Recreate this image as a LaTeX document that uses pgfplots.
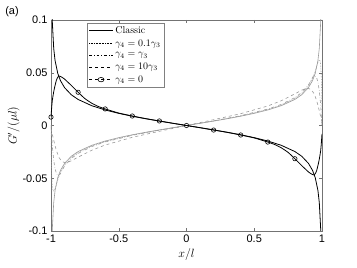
\documentclass[border=0pt]{standalone}
\usepackage{pgfplots}
\pgfplotsset{compat=1.18}
\usepackage{fontspec}
\newfontfamily\arial{Liberation Sans}
\begin{document}
\begin{tikzpicture}
\begin{axis}[
  name=ax,
  scale only axis, width=271bp, height=211bp,
  xmin=-1, xmax=1, ymin=-0.1, ymax=0.1,
  xtick={-1,-0.5,0,0.5,1}, ytick={-0.1,-0.05,0,0.05,0.1},
  tick align=inside, major tick length=3bp,
  axis line style={black!55, line width=0.5pt},
  tick style={black!55},
  tick label style={font=\arial\fontsize{11}{13}\selectfont},
  /pgf/number format/assume math mode=true,
  scaled y ticks=false,
  yticklabel style={/pgf/number format/fixed, /pgf/number format/precision=2},
  xlabel={$x/l$}, ylabel={$G'/(\mu l)$},
  label style={font=\fontsize{12}{14}\selectfont},
  xlabel style={yshift=1bp},
  ylabel style={yshift=-4bp},
  legend style={at={(0.133,0.987)}, anchor=north west, draw=black!50, font=\fontsize{10}{12}\selectfont, inner sep=1.5pt, row sep=0.8pt},
  legend cell align=left,
  legend image post style={xscale=1.4},
]
\addlegendimage{black, line width=0.8pt}
\addlegendentry{Classic}
\addlegendimage{black, densely dotted, line width=0.6pt}
\addlegendentry{$\gamma_4=0.1\gamma_3$}
\addlegendimage{black, dash dot, line width=0.6pt}
\addlegendentry{$\gamma_4=\gamma_3$}
\addlegendimage{black, dashed, line width=0.6pt}
\addlegendentry{$\gamma_4=10\gamma_3$}
\addlegendimage{black, dashed, line width=0.6pt, mark=o, mark size=2.2pt, mark options={solid}}
\addlegendentry{$\gamma_4=0$}

% gray: mirrored classic
\addplot[black!40, line width=0.6pt, forget plot] coordinates {
(-0.999,-0.246)(-0.995,-0.129)(-0.99,-0.0973)(-0.98,-0.0731)(-0.97,-0.0616)(-0.95,-0.0494)(-0.93,-0.0425)(-0.9,-0.0359)(-0.85,-0.0291)(-0.8,-0.0247)(-0.7,-0.0188)(-0.6,-0.0147)(-0.5,-0.0115)(-0.4,-0.0088)(-0.3,-0.00639)(-0.2,-0.00417)(-0.1,-0.00206)(0,0)
(0.1,0.00206)(0.2,0.00417)(0.3,0.00639)(0.4,0.0088)(0.5,0.0115)(0.6,0.0147)(0.7,0.0188)(0.8,0.0247)(0.85,0.0291)(0.9,0.0359)(0.93,0.0425)(0.95,0.0494)(0.97,0.0616)(0.98,0.0731)(0.99,0.0973)(0.995,0.129)(0.999,0.246)};
% gray dotted: 0.1 gamma3
\addplot[black!40, densely dotted, line width=0.6pt, forget plot] coordinates {
(-1,0)(-0.998,-0.028)(-0.995,-0.046)(-0.99,-0.058)(-0.985,-0.0615)(-0.98,-0.062)(-0.97,-0.060)(-0.96,-0.056)(-0.95,-0.0515)(-0.93,-0.0445)(-0.9,-0.0375)(-0.85,-0.0302)(-0.8,-0.0256)(-0.7,-0.0194)(-0.6,-0.0152)(-0.4,-0.0091)(-0.2,-0.0043)(0,0)
(0.2,0.0043)(0.4,0.0091)(0.6,0.0152)(0.7,0.0194)(0.8,0.0256)(0.85,0.0302)(0.9,0.0375)(0.93,0.0445)(0.95,0.0515)(0.96,0.056)(0.97,0.060)(0.98,0.062)(0.985,0.0615)(0.99,0.058)(0.995,0.046)(0.998,0.028)(1,0)};
% gray dash-dot: gamma3
\addplot[black!40, dash dot, line width=0.6pt, forget plot] coordinates {
(-1,0)(-0.99,-0.020)(-0.98,-0.033)(-0.97,-0.041)(-0.96,-0.0455)(-0.95,-0.047)(-0.935,-0.0465)(-0.92,-0.043)(-0.9,-0.0385)(-0.85,-0.0312)(-0.8,-0.0265)(-0.7,-0.0200)(-0.6,-0.0156)(-0.4,-0.0093)(-0.2,-0.0044)(0,0)
(0.2,0.0044)(0.4,0.0093)(0.6,0.0156)(0.7,0.0200)(0.8,0.0265)(0.85,0.0312)(0.9,0.0385)(0.92,0.043)(0.935,0.0465)(0.95,0.047)(0.96,0.0455)(0.97,0.041)(0.98,0.033)(0.99,0.020)(1,0)};
% gray dashed: 10 gamma3
\addplot[black!40, dashed, line width=0.6pt, forget plot] coordinates {
(-1,-0.003)(-0.98,-0.014)(-0.96,-0.024)(-0.94,-0.0305)(-0.92,-0.034)(-0.9,-0.0352)(-0.88,-0.035)(-0.85,-0.0335)(-0.8,-0.0300)(-0.7,-0.0235)(-0.6,-0.0185)(-0.4,-0.0112)(-0.2,-0.0055)(0,0)
(0.2,0.0055)(0.4,0.0112)(0.6,0.0185)(0.7,0.0235)(0.8,0.0300)(0.85,0.0335)(0.88,0.035)(0.9,0.0352)(0.92,0.034)(0.94,0.0305)(0.96,0.024)(0.98,0.014)(1,0.003)};

% black classic
\addplot[black, line width=0.8pt, forget plot] coordinates {
(-0.999,0.246)(-0.995,0.129)(-0.99,0.0973)(-0.98,0.0731)(-0.97,0.0616)(-0.95,0.0494)(-0.93,0.0425)(-0.9,0.0359)(-0.85,0.0291)(-0.8,0.0247)(-0.7,0.0188)(-0.6,0.0147)(-0.5,0.0115)(-0.4,0.0088)(-0.3,0.00639)(-0.2,0.00417)(-0.1,0.00206)(0,0)
(0.1,-0.00206)(0.2,-0.00417)(0.3,-0.00639)(0.4,-0.0088)(0.5,-0.0115)(0.6,-0.0147)(0.7,-0.0188)(0.8,-0.0247)(0.85,-0.0291)(0.9,-0.0359)(0.93,-0.0425)(0.95,-0.0494)(0.97,-0.0616)(0.98,-0.0731)(0.99,-0.0973)(0.995,-0.129)(0.999,-0.246)};
% black gamma4 = 0
\addplot[black, line width=0.8pt, smooth, tension=0.3, forget plot] coordinates {
(-1,0.008)(-0.995,0.017)(-0.99,0.024)(-0.98,0.032)(-0.97,0.038)(-0.96,0.043)(-0.95,0.0458)(-0.94,0.0468)(-0.93,0.0465)(-0.92,0.0458)(-0.9,0.0440)(-0.88,0.0416)(-0.85,0.0380)(-0.8,0.0315)(-0.75,0.0255)(-0.7,0.0212)(-0.65,0.0180)(-0.6,0.0157)(-0.5,0.0118)(-0.4,0.0090)(-0.3,0.0065)(-0.2,0.0043)(-0.1,0.0021)(0,0)
(0.1,-0.0021)(0.2,-0.0043)(0.3,-0.0065)(0.4,-0.0090)(0.5,-0.0118)(0.6,-0.0157)(0.65,-0.0180)(0.7,-0.0212)(0.75,-0.0255)(0.8,-0.0315)(0.85,-0.0380)(0.88,-0.0416)(0.9,-0.0440)(0.92,-0.0458)(0.93,-0.0465)(0.94,-0.0468)(0.95,-0.0458)(0.96,-0.043)(0.97,-0.038)(0.98,-0.032)(0.99,-0.024)(0.995,-0.017)(1,-0.008)};
\addplot[black, only marks, mark=o, mark size=2.2pt, line width=0.6pt, forget plot] coordinates {
(-1,0.008)(-0.8,0.0315)(-0.6,0.0157)(-0.4,0.0090)(-0.2,0.0043)(0,0)(0.2,-0.0043)(0.4,-0.0090)(0.6,-0.0157)(0.8,-0.0315)};
\end{axis}
\node[font=\arial\fontsize{11}{13}\selectfont] at ([shift={(-39bp,219bp)}]ax.south west) {(a)};
\path ([shift={(-51bp,-37bp)}]ax.south west) rectangle ([shift={(306bp,231bp)}]ax.south west);
\end{tikzpicture}
\end{document}
